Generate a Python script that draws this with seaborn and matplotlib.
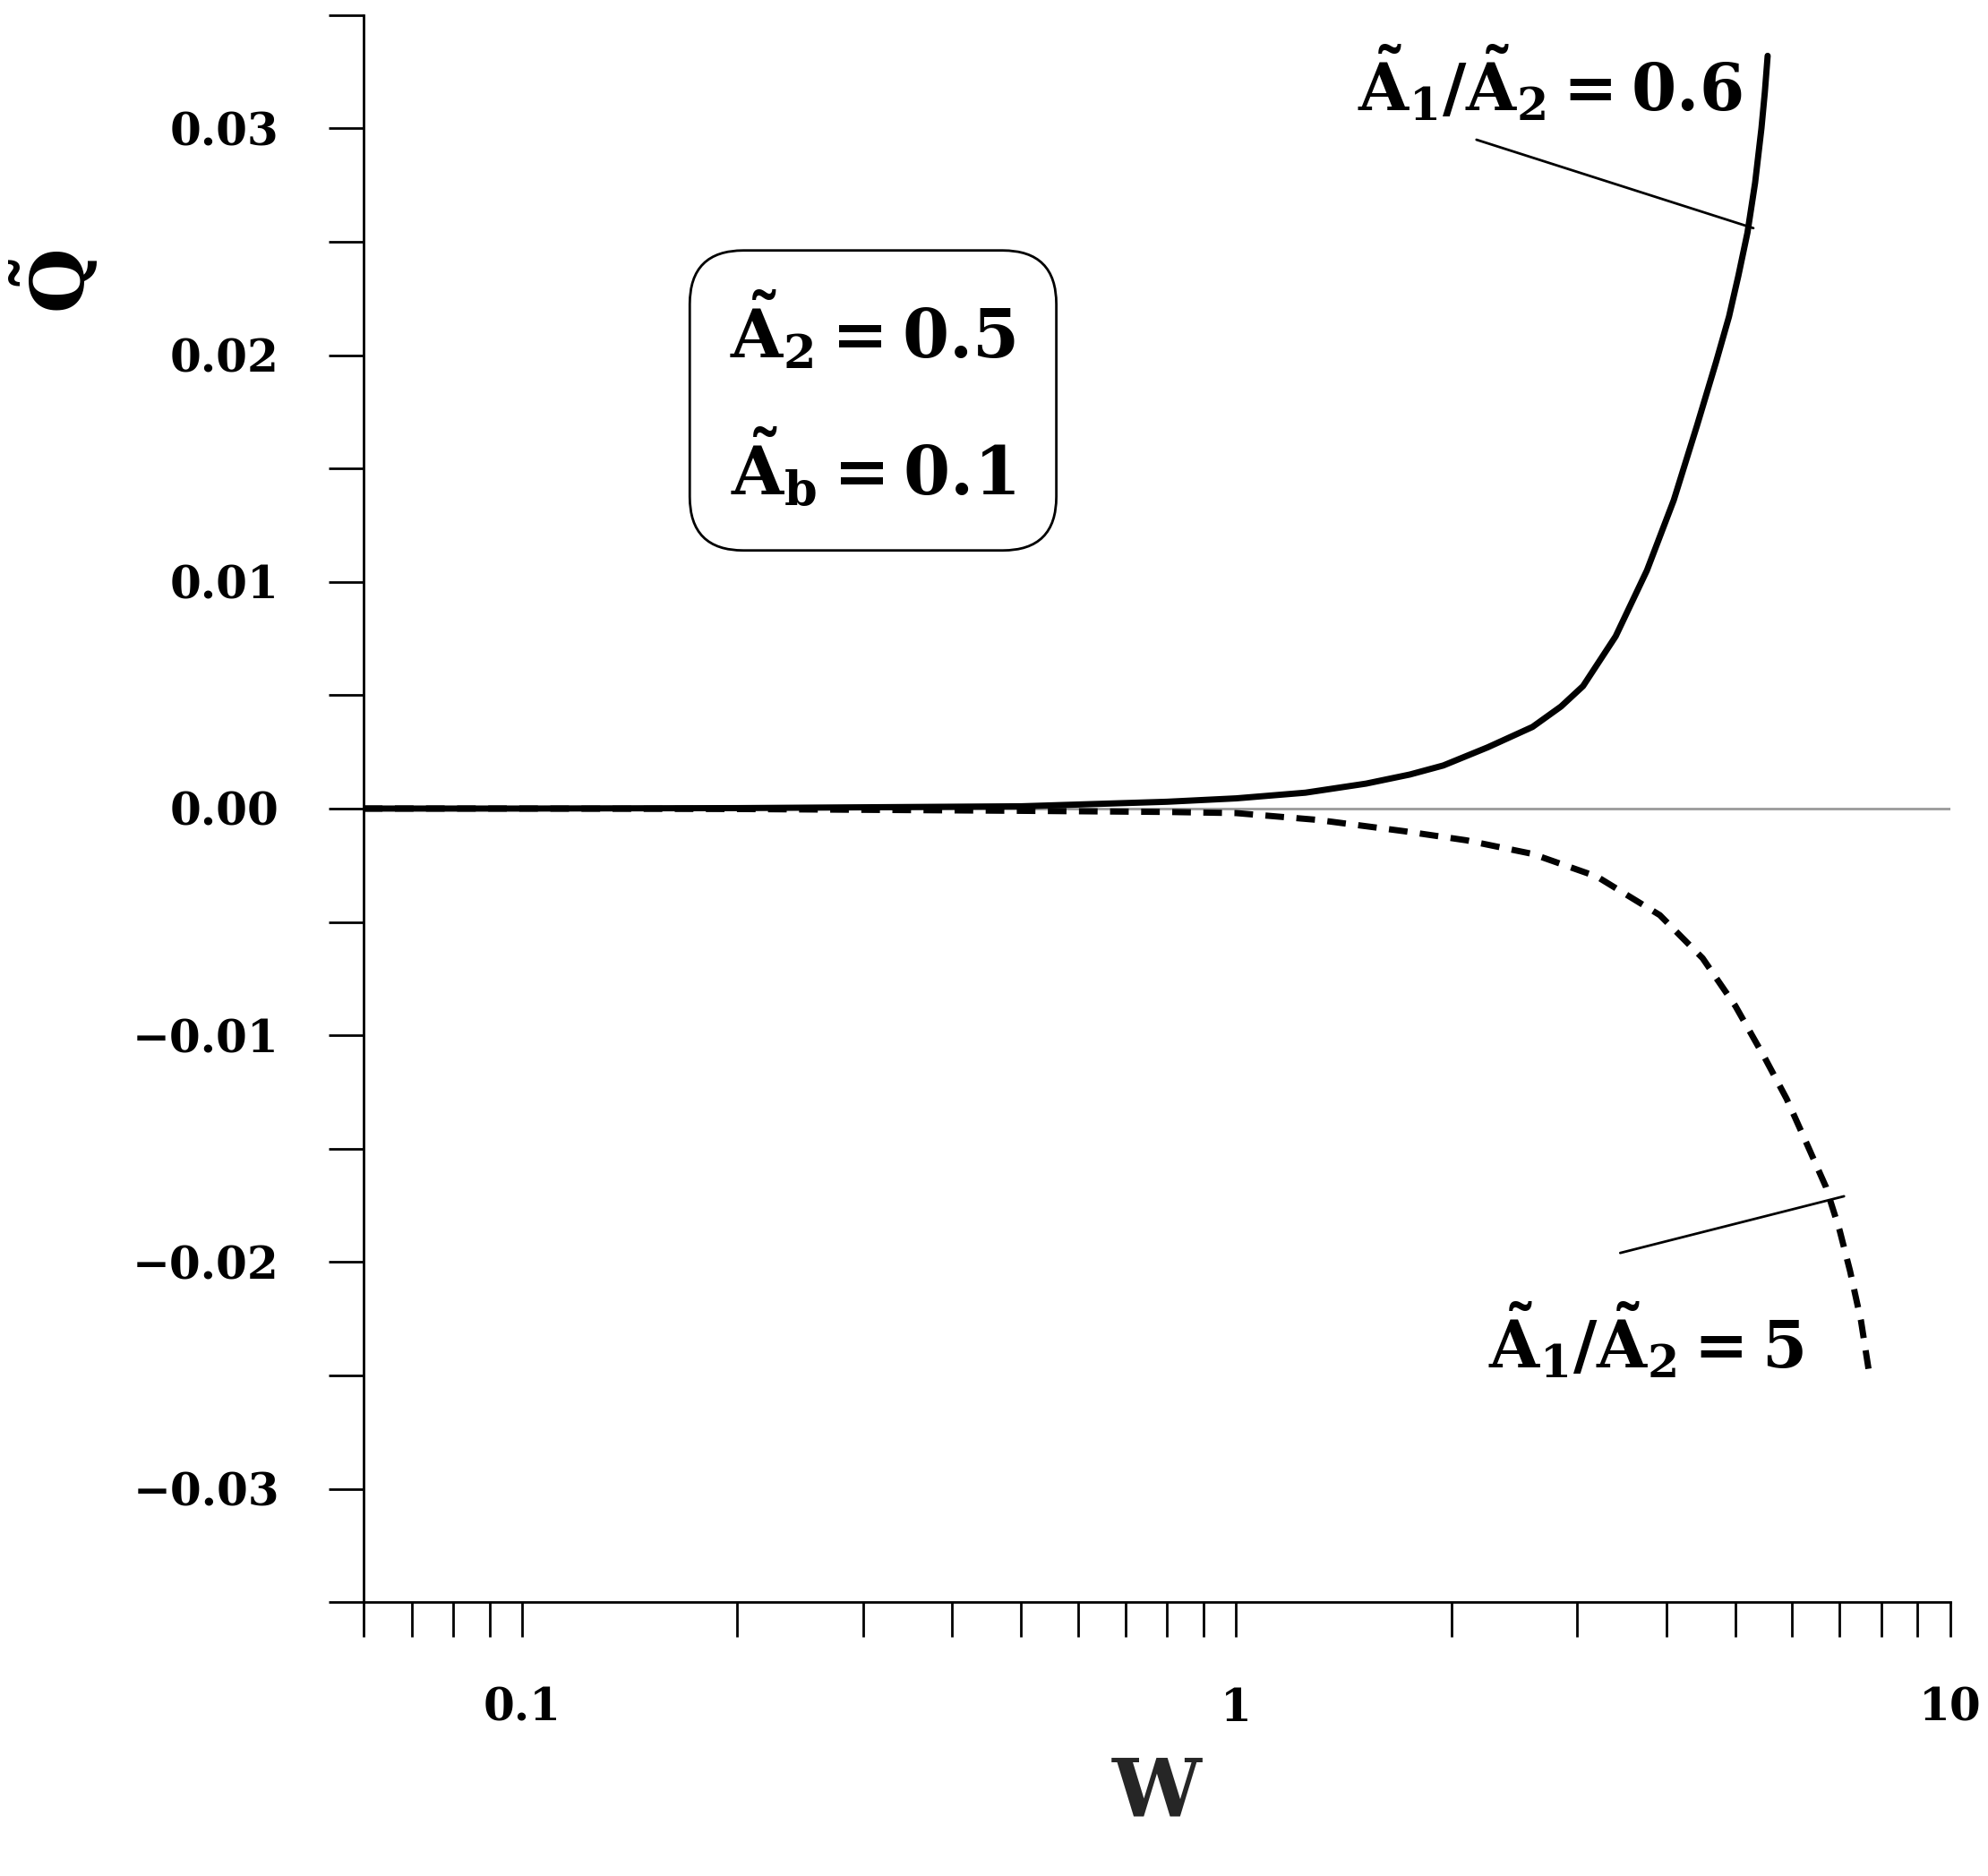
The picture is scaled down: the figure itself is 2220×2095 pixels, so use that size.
import numpy as np
import matplotlib
matplotlib.use("Agg")
import matplotlib.pyplot as plt
import matplotlib.ticker as mticker
import seaborn as sns
import pandas as pd

sns.set_theme(style="ticks")
plt.rcParams['font.family'] = ['DejaVu Serif']
plt.rcParams['font.weight'] = 'bold'
plt.rcParams['mathtext.fontset'] = 'dejavuserif'
plt.rcParams['text.color'] = 'black'
plt.rcParams['xtick.color'] = 'black'
plt.rcParams['ytick.color'] = 'black'
plt.rcParams['axes.edgecolor'] = 'black'

w_solid = [0.06, 0.1, 0.2, 0.5, 0.8, 1.0, 1.25, 1.52, 1.75, 1.95, 2.25, 2.6, 2.85, 3.06, 3.4, 3.76, 4.1, 4.42, 4.7, 4.9, 5.05, 5.2, 5.33, 5.44, 5.5, 5.55]
q_solid = [0.0, 0.0, 0.00002, 0.0001, 0.0003, 0.00045, 0.0007, 0.0011, 0.0015, 0.0019, 0.0027, 0.0036, 0.0045, 0.0054, 0.0076, 0.0105, 0.0136, 0.0169, 0.0197, 0.0217, 0.0235, 0.0254, 0.0276, 0.0300, 0.0316, 0.0332]
w_dash = [0.06, 0.1, 0.2, 0.5, 0.8, 1.0, 1.3, 1.72, 2.1, 2.6, 3.2, 3.92, 4.5, 5.0, 5.5, 5.9, 6.3, 6.7, 7.0, 7.24, 7.5, 7.7]
q_dash = [0.0, 0.0, -0.00002, -0.0001, -0.00015, -0.0002, -0.0005, -0.001, -0.0014, -0.002, -0.003, -0.0047, -0.0066, -0.0087, -0.011, -0.0128, -0.0148, -0.0167, -0.0186, -0.0204, -0.0226, -0.0249]

fig = plt.figure(figsize=(22.2, 20.95), dpi=100)
ax = fig.add_axes([0.183, 0.146, 0.798, 0.846])

ax.axhline(0, color='#999999', lw=2, zorder=0)
sns.lineplot(data=pd.DataFrame({'W': w_solid, 'Q': q_solid}), x='W', y='Q', ax=ax, color='black', lw=5)
sns.lineplot(data=pd.DataFrame({'W': w_dash, 'Q': q_dash}), x='W', y='Q', ax=ax, color='black', lw=5, linestyle=(0, (3, 2)))

ax.set_xscale('log')
ax.set_xlim(0.06, 10)
ax.set_ylim(-0.035, 0.035)
ax.spines['top'].set_visible(False)
ax.spines['right'].set_visible(False)
ax.spines['left'].set_linewidth(2)
ax.spines['bottom'].set_linewidth(2)
ax.yaxis.set_major_locator(mticker.MultipleLocator(0.01))
ax.yaxis.set_minor_locator(mticker.MultipleLocator(0.005))
ax.yaxis.set_major_formatter(mticker.FuncFormatter(lambda v, p: f"{v:.2f}".replace('-', '\u2212') if abs(v) > 1e-9 else "0.00"))
ax.xaxis.set_major_locator(mticker.LogLocator(base=10))
ax.xaxis.set_minor_locator(mticker.LogLocator(base=10, subs=np.arange(2, 10)))
ax.xaxis.set_major_formatter(mticker.FuncFormatter(lambda v, p: f"{v:g}"))
ax.xaxis.set_minor_formatter(mticker.NullFormatter())
ax.tick_params(axis='both', which='major', length=28, width=2, labelsize=36, direction='out')
ax.tick_params(axis='both', which='minor', length=28, width=2, direction='out')
ax.tick_params(axis='y', which='major', pad=40)
ax.tick_params(axis='x', which='major', pad=40)
for lbl in ax.get_xticklabels() + ax.get_yticklabels():
    lbl.set_fontweight('bold')
ax.set_xlabel('W', fontsize=64, fontweight='bold', labelpad=20)
ax.set_ylabel('')
fig.text(0.027, 0.85, r'$\mathbf{\tilde{Q}}$', rotation=90, fontsize=60, ha='center', va='center')

ax.text(0.31, 0.018, r'$\mathbf{\tilde{A}_2 = 0.5}$' + '\n\n' + r'$\mathbf{\tilde{A}_b = 0.1}$',
        fontsize=54, ha='center', va='center', linespacing=0.9,
        bbox=dict(boxstyle='round,pad=0.6,rounding_size=0.8', fc='white', ec='black', lw=2))

ax.text(2.75, 0.0302, r'$\mathbf{\tilde{A}_1/\tilde{A}_2 = 0.6}$', fontsize=52, ha='center', va='bottom')
ax.plot([2.17, 5.3], [0.0295, 0.0256], color='black', lw=2)
ax.text(3.75, -0.0235, r'$\mathbf{\tilde{A}_1/\tilde{A}_2 = 5}$', fontsize=52, ha='center', va='center')
ax.plot([3.45, 7.1], [-0.0196, -0.0171], color='black', lw=2)

fig.savefig('out.png', dpi=100)
